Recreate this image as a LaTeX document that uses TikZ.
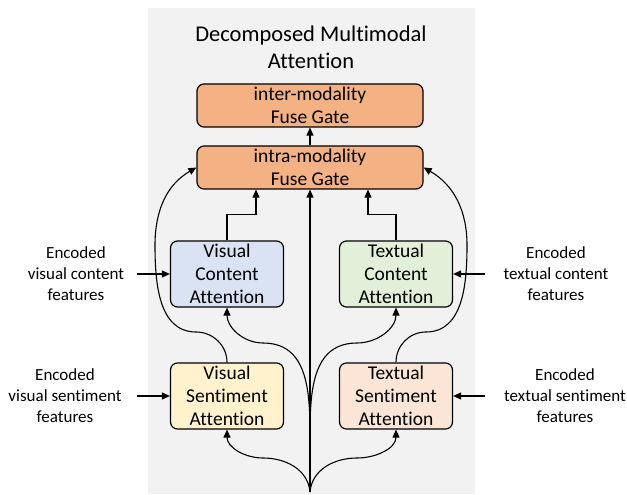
\documentclass[tikz,border=0pt]{standalone}
\usepackage{fontspec}
\setmainfont[Ligatures=CommonOff]{Carlito}
\usetikzlibrary{arrows.meta}
\definecolor{bggray}{HTML}{F2F2F2}
\definecolor{gateorange}{HTML}{F4B183}
\definecolor{vcblue}{HTML}{DAE3F3}
\definecolor{tcgreen}{HTML}{E2F0D9}
\definecolor{vsyellow}{HTML}{FFF2CC}
\definecolor{tspeach}{HTML}{FBE5D6}
\begin{document}
\begin{tikzpicture}[x=1pt,y=1pt,
  box/.style={draw, rounded corners=7pt, line width=1.2pt, align=center, inner sep=0pt, font=\fontsize{19.5}{23}\selectfont},
  gate/.style={box, fill=gateorange, minimum width=226pt, minimum height=43pt},
  att/.style={box, minimum width=113pt, minimum height=66pt},
  lbl/.style={align=center, font=\fontsize{17}{21}\selectfont},
  arr/.style={-{Triangle[length=8pt,width=7pt]}, line width=1.1pt}]
\useasboundingbox (0,0) rectangle (627,495);
\fill[bggray] (148,1) rectangle (475,487);
\node[align=center, font=\fontsize{22.5}{27}\selectfont] (title) at (311,448) {Decomposed Multimodal\\Attention};
\node[gate] (inter) at (310,389.5) {inter-modality\\Fuse Gate};
\node[gate] (intra) at (310,327.5) {intra-modality\\Fuse Gate};
\node[att, fill=vcblue] (vcont) at (227,221) {Visual\\Content\\Attention};
\node[att, fill=tcgreen] (tcont) at (396,221) {Textual\\Content\\Attention};
\node[att, fill=vsyellow] (vsent) at (227,99) {Visual\\Sentiment\\Attention};
\node[att, fill=tspeach] (tsent) at (396,99) {Textual\\Sentiment\\Attention};
\node[lbl] (lvc) at (76,221) {Encoded\\visual content\\features};
\node[lbl] (lvs) at (65,99) {Encoded\\visual sentiment\\features};
\node[lbl] (ltc) at (556,221) {Encoded\\textual content\\features};
\node[lbl] (lts) at (565,99) {Encoded\\textual sentiment\\features};
\coordinate (b) at (310,3);
\draw[arr] (intra) -- (inter);
\draw[arr] (b) -- (intra.south);
\draw[arr] (vcont.north) -- ++(0,26) -| ([xshift=-54pt]intra.south);
\draw[arr] (tcont.north) -- ++(0,26) -| ([xshift=58pt]intra.south);
\draw[arr] (b) to[out=95,in=0] (263,37) to[out=180,in=-90] (vsent.south);
\draw[arr] (b) to[out=85,in=180] (357,37) to[out=0,in=-90] (tsent.south);
\draw[arr] (b) to[out=93,in=0] (263,152) to[out=180,in=-90] (vcont.south);
\draw[arr] (b) to[out=87,in=180] (357,152) to[out=0,in=-90] (tcont.south);
\draw[arr] (vsent.north) to[out=90,in=0] (196,163) to[out=180,in=-90] (155,250) to[out=90,in=210] (intra.west);
\draw[arr] (tsent.north) to[out=90,in=180] (426,163) to[out=0,in=-90] (467,250) to[out=90,in=-30] (intra.east);
\draw[arr] ([xshift=-33pt]vcont.west) -- (vcont.west);
\draw[arr] ([xshift=-33pt]vsent.west) -- (vsent.west);
\draw[arr] ([xshift=32pt]tcont.east) -- (tcont.east);
\draw[arr] ([xshift=32pt]tsent.east) -- (tsent.east);
\end{tikzpicture}
\end{document}
